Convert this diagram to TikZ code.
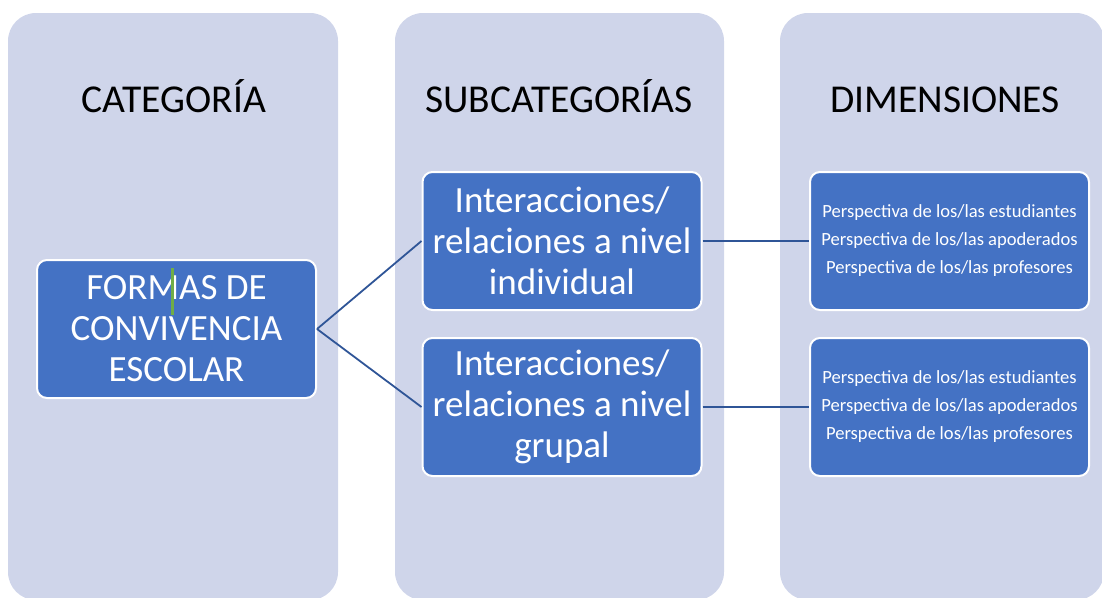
\documentclass[tikz,border=0pt]{standalone}
\usepackage{fontspec}
\setmainfont{Carlito}
\definecolor{lavender}{HTML}{CFD5EA}
\definecolor{boxblue}{HTML}{4472C4}
\definecolor{lineblue}{HTML}{2F5597}
\definecolor{cursorgreen}{HTML}{70AD47}
\tikzset{
    column-box/.style = {fill=lavender, rounded corners=28pt},
    blue-box/.style = {draw=white, fill=boxblue, line width=2pt, rounded corners=10pt, text=white, align=center, inner sep=0pt, minimum width=279pt, minimum height=138pt},
    header-text/.style = {font=\fontsize{39.5}{47}\selectfont, anchor=base},
    big-text/.style = {font=\fontsize{37}{41}\selectfont},
    small-text/.style = {font=\fontsize{18.6}{28}\selectfont},
    link/.style = {draw=lineblue, line width=1.8pt},
}

\begin{document}
\begin{tikzpicture}[x=1pt,y=-1pt]
\useasboundingbox (0,0) rectangle (1102,597);
\clip (0,0) rectangle (1102,597);
% columns
\fill[column-box] (8,13) rectangle (338,600);
\fill[column-box] (395,13) rectangle (724,600);
\fill[column-box] (780,13) rectangle (1104,600);
% titles
\node[header-text] (cat-title) at (174,112) {CATEGORÍA};
\node[header-text] (sub-title) at (559,112) {SUBCATEGORÍAS};
\node[header-text] (dim-title) at (945,112) {DIMENSIONES};
% boxes
\node[blue-box, big-text] (cat) at (176.5,329) {FORMAS DE\\CONVIVENCIA\\ESCOLAR};
\node[blue-box, big-text] (sub-ind) at (562,241) {Interacciones/\\relaciones a nivel\\individual};
\node[blue-box, big-text] (sub-grp) at (562,407) {Interacciones/\\relaciones a nivel\\grupal};
\node[blue-box, small-text] (dim-ind) at (949.5,241) {Perspectiva de los/las estudiantes\\Perspectiva de los/las apoderados\\Perspectiva de los/las profesores};
\node[blue-box, small-text] (dim-grp) at (949.5,407) {Perspectiva de los/las estudiantes\\Perspectiva de los/las apoderados\\Perspectiva de los/las profesores};
% links
\draw[link] (cat.east) -- (sub-ind.west);
\draw[link] (cat.east) -- (sub-grp.west);
\draw[link] (sub-ind.east) -- (dim-ind.west);
\draw[link] (sub-grp.east) -- (dim-grp.west);
% text cursor
\draw[cursorgreen, line width=3pt] (172,268) -- (172,315);
\end{tikzpicture}
\end{document}
